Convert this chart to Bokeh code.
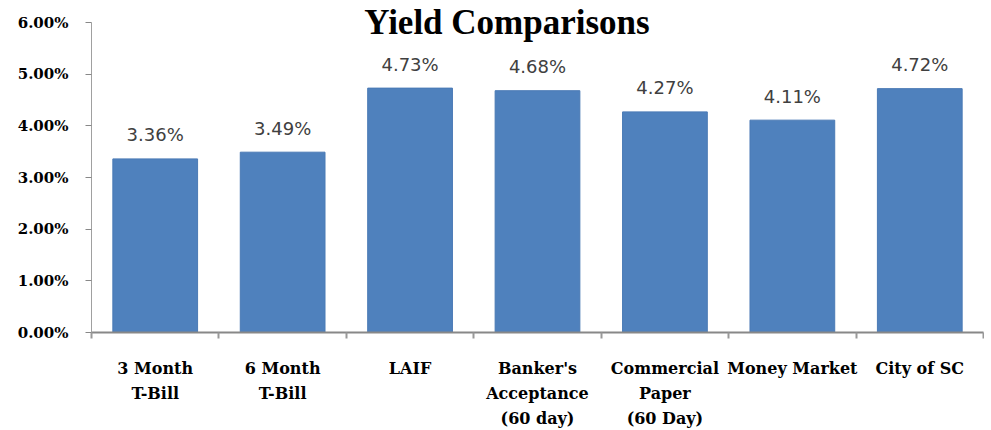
from bokeh.plotting import figure
from bokeh.models import ColumnDataSource, FixedTicker, LinearAxis, Range1d, Label
from bokeh.core.properties import value
from bokeh.embed import file_html
from bokeh.resources import INLINE

categories = ["3 Month\nT-Bill", "6 Month\nT-Bill", "LAIF", "Banker's\nAcceptance\n(60 day)",
              "Commercial\nPaper\n(60 Day)", "Money Market", "City of SC"]
yields = [3.36, 3.49, 4.73, 4.68, 4.27, 4.11, 4.72]
y_ticks = [0, 1, 2, 3, 4, 5, 6]

xpos = [i + 0.5 for i in range(len(categories))]
src = ColumnDataSource(dict(x=xpos, top=yields, label=[f"{v:.2f}%" for v in yields]))

# frame: left 91, right 983, top 0 (axis top at 22), bottom 332
p = figure(width=984, height=430, output_backend="svg", toolbar_location=None,
           x_range=Range1d(0, len(categories)), y_range=Range1d(0, 6 + 22 / (310 / 6)),
           min_border_left=91, min_border_right=1, min_border_top=0, min_border_bottom=10,
           x_axis_location=None, y_axis_location=None)
p.outline_line_color = None
p.xgrid.grid_line_color = None
p.ygrid.grid_line_color = None

p.vbar(x="x", top="top", width=0.665, source=src, fill_color="#4F81BD", line_color="#4A7AB5")
p.text(x="x", y="top", text="label", source=src, text_align="center", text_baseline="middle",
       y_offset=-24, text_font=value("DejaVu Sans"), text_font_size="18px", text_color="#404040")

# y axis
yax = LinearAxis(ticker=FixedTicker(ticks=y_ticks), bounds=(0, 6))
yax.major_label_overrides = {t: f"{t:.2f}%" for t in y_ticks}
yax.axis_line_color = "#A0A0A0"
yax.major_tick_line_color = "#888888"
yax.major_tick_in = 0
yax.major_tick_out = 6
yax.minor_tick_line_color = None
yax.major_label_standoff = 17
yax.major_label_text_font = "DejaVu Serif"
yax.major_label_text_font_style = "bold"
yax.major_label_text_font_size = "15px"
yax.major_label_text_color = "#000000"
p.add_layout(yax, "left")

# x axis line with boundary ticks
bounds_ticks = list(range(len(categories) + 1))
xax = LinearAxis(ticker=FixedTicker(ticks=bounds_ticks))
xax.major_label_overrides = {t: "" for t in bounds_ticks}
xax.major_label_text_font_size = "1px"
xax.axis_line_color = "#888888"
xax.axis_line_width = 2
xax.major_tick_line_color = "#999999"
xax.major_tick_line_width = 2
xax.major_tick_in = 0
xax.major_tick_out = 6
xax.minor_tick_line_color = None
xax.major_label_standoff = 0
p.add_layout(xax, "below")

# category labels
cax = LinearAxis(ticker=FixedTicker(ticks=xpos))
cax.major_label_overrides = {x: c for x, c in zip(xpos, categories)}
cax.axis_line_color = None
cax.major_tick_line_color = None
cax.minor_tick_line_color = None
cax.major_label_standoff = 14
cax.major_label_text_font = "DejaVu Serif"
cax.major_label_text_font_style = "bold"
cax.major_label_text_font_size = "16px"
cax.major_label_text_line_height = 1.32
cax.major_label_text_color = "#000000"
p.add_layout(cax, "below")

title = Label(x=3.26, y=6, text="Yield Comparisons", text_align="center", text_baseline="middle",
              text_font="Liberation Serif", text_font_style="bold", text_font_size="35px",
              text_color="#000000")
p.add_layout(title)

open("out.html", "w").write(file_html(p, INLINE))
